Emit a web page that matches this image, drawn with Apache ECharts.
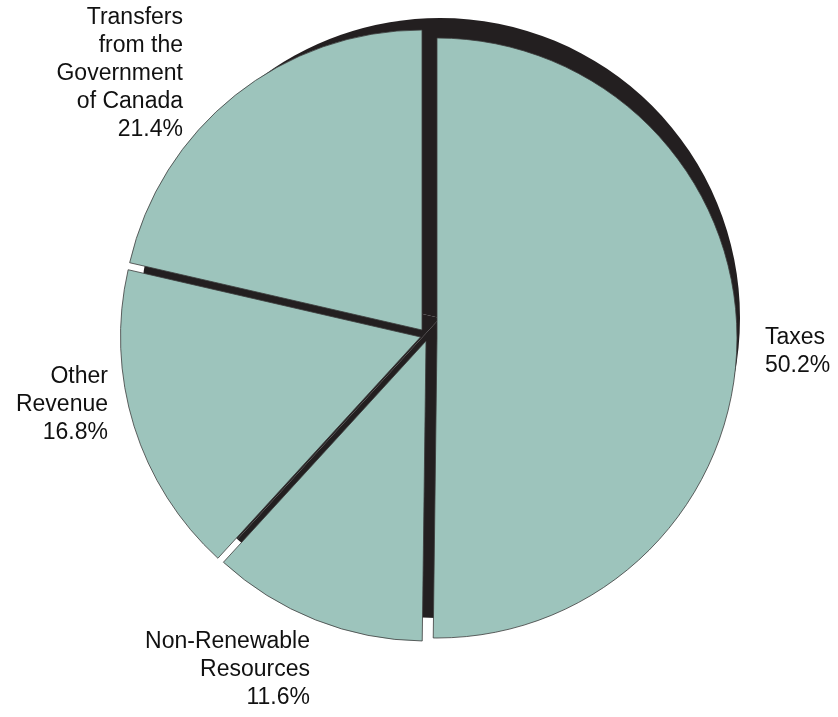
<!DOCTYPE html>
<html>
<head>
<meta charset="utf-8">
<script src="https://cdn.jsdelivr.net/npm/echarts@6/dist/echarts.min.js"></script>
<style>
html,body{margin:0;padding:0;background:#fff;}
#chart{width:838px;height:717px;}
</style>
</head>
<body>
<div id="chart"></div>
<script>
// Data (clockwise from 12 o'clock)
const categories = ["Taxes", "Non-Renewable\nResources", "Other\nRevenue", "Transfers\nfrom the\nGovernment\nof Canada"];
const shares = [50.2, 11.6, 16.8, 21.4];

// Styling / layout (not data)
const TEAL = '#9dc4bc';
const DARK = '#231f20';
const R = 300;
const sliceCenters = [[437, 338], [426, 341], [420.5, 337], [422, 330]];
const labelAnchors = [
  {x: 765, y: 352, align: 'left'},
  {x: 310, y: 670, align: 'right'},
  {x: 108, y: 405, align: 'right'},
  {x: 183, y: 74, align: 'right'}
];

const chart = echarts.init(document.getElementById('chart'), null, {renderer: 'canvas'});

const series = [];
// dark backing disc
series.push({
  type: 'pie',
  silent: true,
  center: [440, 318],
  radius: R,
  startAngle: 90,
  clockwise: true,
  label: {show: false},
  labelLine: {show: false},
  itemStyle: {color: DARK, borderWidth: 0},
  emphasis: {disabled: true},
  data: categories.map((c, j) => ({name: c, value: shares[j]})),
  z: 1
});

categories.forEach((cat, i) => {
  series.push({
    type: 'pie',
    silent: true,
    center: sliceCenters[i],
    radius: R,
    startAngle: 90,
    clockwise: true,
    percentPrecision: 1,
    avoidLabelOverlap: false,
    emphasis: {disabled: true},
    labelLine: {show: false},
    labelLayout: {
      x: labelAnchors[i].x,
      y: labelAnchors[i].y,
      align: labelAnchors[i].align,
      verticalAlign: 'middle'
    },
    data: categories.map((c, j) => ({
      name: c,
      value: shares[j],
      itemStyle: j === i
        ? {color: TEAL, borderColor: '#3c3c3c', borderWidth: 0.8}
        : {color: 'rgba(0,0,0,0)', borderWidth: 0},
      label: j === i ? {
        show: true,
        position: 'outside',
        formatter: '{b}\n{d}%',
        fontFamily: '"Liberation Sans", Arial, sans-serif',
        fontSize: 23,
        lineHeight: 28,
        color: '#111',
        align: labelAnchors[i].align
      } : {show: false}
    })),
    z: 2 + i
  });
});

chart.setOption({
  animation: false,
  backgroundColor: '#ffffff',
  series: series
});
</script>
</body>
</html>
